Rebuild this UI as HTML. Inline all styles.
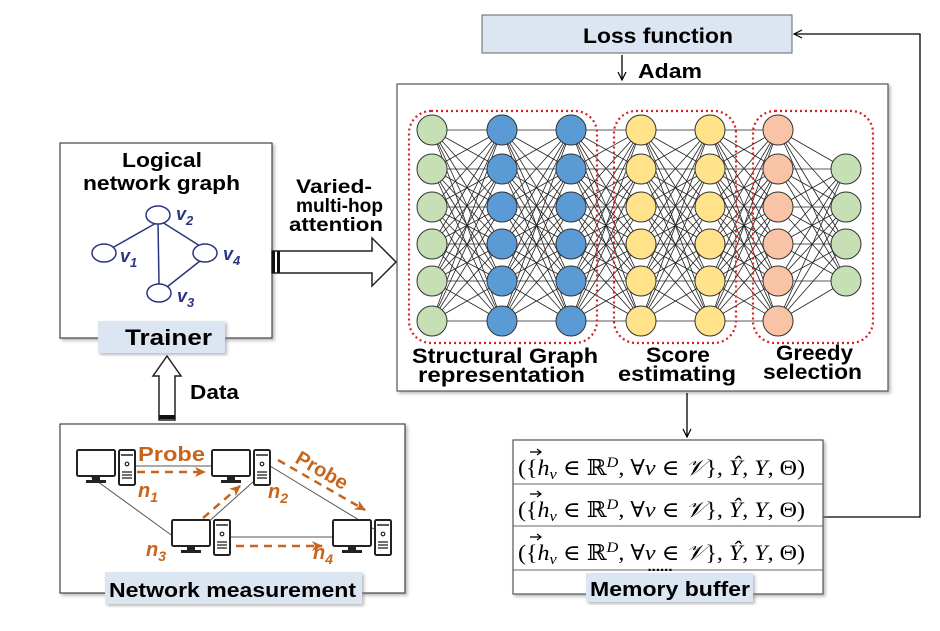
<!DOCTYPE html>
<html><head><meta charset="utf-8"><style>
html,body{margin:0;padding:0;background:#fff;}
svg{display:block;font-family:"Liberation Sans",Arial,sans-serif;}
.b{font-weight:bold;}
.m{font-family:"Liberation Serif","DejaVu Serif",serif;font-size:22px;}
</style></head><body>
<svg id="s" width="940" height="631" viewBox="0 0 940 631" xmlns="http://www.w3.org/2000/svg">
<defs>
<filter id="sh" x="-5%" y="-5%" width="112%" height="115%"><feDropShadow dx="2" dy="2" stdDeviation="1.5" flood-color="#888" flood-opacity="0.6"/></filter>
<marker id="ah" markerWidth="10" markerHeight="10" refX="9" refY="5" orient="auto" markerUnits="userSpaceOnUse"><path d="M1,1 L9,5 L1,9" fill="none" stroke="#000" stroke-width="1.2"/></marker>
<marker id="oa" markerWidth="12" markerHeight="12" refX="10" refY="6" orient="auto" markerUnits="userSpaceOnUse"><path d="M0,1 L11,6 L0,11 L3,6 Z" fill="#c8651b"/></marker>
<g id="pc">
<rect x="0" y="0" width="38" height="26" fill="#fff" stroke="#222" stroke-width="2" rx="1.5"/>
<rect x="15" y="26" width="8" height="4" fill="#222"/>
<rect x="9" y="30" width="20" height="3" fill="#222"/>
<rect x="42" y="0" width="16" height="35" fill="#fff" stroke="#222" stroke-width="2" rx="1.5"/>
<line x1="44" y1="5" x2="56" y2="5" stroke="#222" stroke-width="1.5"/>
<circle cx="50" cy="14" r="1.8" fill="none" stroke="#222" stroke-width="1.2"/>
<line x1="45" y1="22" x2="55" y2="22" stroke="#222" stroke-width="1.3"/>
<line x1="45" y1="25" x2="55" y2="25" stroke="#222" stroke-width="1.3"/>
<line x1="45" y1="28" x2="55" y2="28" stroke="#222" stroke-width="1.3"/>
</g>
<g id="vec"><line x1="0" y1="0" x2="10" y2="0" stroke="#000" stroke-width="1.3"/><path d="M7,-3 L11,0 L7,3" fill="none" stroke="#000" stroke-width="1.2"/></g>
</defs>

<!-- Loss function -->
<rect x="482" y="15" width="310" height="38" fill="#dce6f2" stroke="#666" stroke-width="1"/>
<text x="583" y="43" class="b" font-size="21" textLength="150" lengthAdjust="spacingAndGlyphs">Loss function</text>
<line x1="622" y1="55" x2="622" y2="80" stroke="#000" stroke-width="1.3" marker-end="url(#ah)"/>
<text x="638" y="78" class="b" font-size="20" textLength="64" lengthAdjust="spacingAndGlyphs">Adam</text>
<polyline points="823,517 920,517 920,34 794,34" fill="none" stroke="#000" stroke-width="1.3" marker-end="url(#ah)"/>

<!-- NN box -->
<rect x="397" y="84" width="491" height="307" fill="#fff" stroke="#555" stroke-width="1.2" filter="url(#sh)"/>
<g id="nn"></g>
<rect x="409" y="111" width="188" height="232" rx="22" fill="none" stroke="#d42020" stroke-width="2.2" stroke-dasharray="2,3"/>
<rect x="614" y="111" width="122" height="232" rx="22" fill="none" stroke="#d42020" stroke-width="2.2" stroke-dasharray="2,3"/>
<rect x="753" y="111" width="120" height="232" rx="22" fill="none" stroke="#d42020" stroke-width="2.2" stroke-dasharray="2,3"/>
<g class="b" font-size="21" lengthAdjust="spacingAndGlyphs">
<text x="412" y="363" textLength="186" lengthAdjust="spacingAndGlyphs">Structural Graph</text>
<text x="418" y="382" textLength="167" lengthAdjust="spacingAndGlyphs">representation</text>
<text x="646" y="362" textLength="64" lengthAdjust="spacingAndGlyphs">Score</text>
<text x="618" y="381" textLength="118" lengthAdjust="spacingAndGlyphs">estimating</text>
<text x="776" y="360" textLength="77" lengthAdjust="spacingAndGlyphs">Greedy</text>
<text x="763" y="379" textLength="99" lengthAdjust="spacingAndGlyphs">selection</text>
</g>

<!-- arrow to memory -->
<line x1="687" y1="393" x2="687" y2="437" stroke="#000" stroke-width="1.3" marker-end="url(#ah)"/>
<!-- Memory buffer -->
<rect x="513" y="440" width="310" height="154" fill="#fff" stroke="#555" stroke-width="1.2" filter="url(#sh)"/>
<line x1="513" y1="484" x2="823" y2="484" stroke="#666"/>
<line x1="513" y1="526" x2="823" y2="526" stroke="#666"/>
<line x1="513" y1="570" x2="823" y2="570" stroke="#666"/>
<g class="m">
<text x="518" y="475" textLength="287" lengthAdjust="spacingAndGlyphs">({<tspan font-style="italic">h</tspan><tspan font-size="15" font-style="italic" dy="4">v</tspan><tspan dy="-4"> ∈ ℝ</tspan><tspan font-size="15" font-style="italic" dy="-8">D</tspan><tspan dy="8">, ∀</tspan><tspan font-style="italic">v</tspan> ∈ <tspan font-style="italic">𝒱</tspan>}, <tspan font-style="italic">Ŷ</tspan>, <tspan font-style="italic">Y</tspan>, Θ)</text>
<text x="518" y="517" textLength="287" lengthAdjust="spacingAndGlyphs">({<tspan font-style="italic">h</tspan><tspan font-size="15" font-style="italic" dy="4">v</tspan><tspan dy="-4"> ∈ ℝ</tspan><tspan font-size="15" font-style="italic" dy="-8">D</tspan><tspan dy="8">, ∀</tspan><tspan font-style="italic">v</tspan> ∈ <tspan font-style="italic">𝒱</tspan>}, <tspan font-style="italic">Ŷ</tspan>, <tspan font-style="italic">Y</tspan>, Θ)</text>
<text x="518" y="560" textLength="287" lengthAdjust="spacingAndGlyphs">({<tspan font-style="italic">h</tspan><tspan font-size="15" font-style="italic" dy="4">v</tspan><tspan dy="-4"> ∈ ℝ</tspan><tspan font-size="15" font-style="italic" dy="-8">D</tspan><tspan dy="8">, ∀</tspan><tspan font-style="italic">v</tspan> ∈ <tspan font-style="italic">𝒱</tspan>}, <tspan font-style="italic">Ŷ</tspan>, <tspan font-style="italic">Y</tspan>, Θ)</text>
</g>
<use href="#vec" x="530" y="452"/><use href="#vec" x="530" y="494"/><use href="#vec" x="530" y="537"/>
<text x="660" y="571" font-size="15" class="b" text-anchor="middle">......</text>
<rect x="586" y="573" width="167" height="29" fill="#dce6f2" filter="url(#sh)"/>
<text x="590" y="596" class="b" font-size="20" textLength="160" lengthAdjust="spacingAndGlyphs">Memory buffer</text>

<!-- Logical network graph -->
<rect x="60" y="143" width="212" height="195" fill="#fff" stroke="#444" stroke-width="1.2" filter="url(#sh)"/>
<text x="122" y="167" class="b" font-size="20" textLength="80" lengthAdjust="spacingAndGlyphs">Logical</text>
<text x="83" y="190" class="b" font-size="20" textLength="157" lengthAdjust="spacingAndGlyphs">network graph</text>
<g stroke="#2a3580" stroke-width="1.5" fill="none">
<line x1="158" y1="222" x2="112" y2="248"/>
<line x1="158" y1="222" x2="159" y2="284"/>
<line x1="162" y1="222" x2="200" y2="246"/>
<line x1="200" y1="261" x2="167" y2="287"/>
<ellipse cx="158" cy="215" rx="12" ry="9" fill="#fff"/>
<ellipse cx="104" cy="253" rx="12" ry="9" fill="#fff"/>
<ellipse cx="205" cy="253" rx="12" ry="9" fill="#fff"/>
<ellipse cx="159" cy="293" rx="12" ry="9" fill="#fff"/>
</g>
<g fill="#2a3580" class="b" font-style="italic" font-size="18">
<text x="176" y="220">v<tspan font-size="13" dy="5">2</tspan></text>
<text x="120" y="262">v<tspan font-size="13" dy="5">1</tspan></text>
<text x="223" y="260">v<tspan font-size="13" dy="5">4</tspan></text>
<text x="177" y="302">v<tspan font-size="13" dy="5">3</tspan></text>
</g>
<rect x="98" y="321" width="127" height="32" fill="#dce6f2" filter="url(#sh)"/>
<text x="125" y="345" class="b" font-size="22" textLength="87" lengthAdjust="spacingAndGlyphs">Trainer</text>

<!-- big right arrow -->
<path d="M272,251 L372,251 L372,238 L396,262 L372,286 L372,273 L272,273 Z" fill="#fff" stroke="#222" stroke-width="1.5"/>
<rect x="272" y="251" width="3" height="22" fill="#111"/><rect x="277" y="251" width="3" height="22" fill="#111"/>
<g class="b" font-size="19">
<text x="296" y="193" textLength="76" lengthAdjust="spacingAndGlyphs">Varied-</text>
<text x="296" y="212" textLength="87" lengthAdjust="spacingAndGlyphs">multi-hop</text>
<text x="289" y="231" textLength="94" lengthAdjust="spacingAndGlyphs">attention</text>
</g>

<!-- up arrow -->
<path d="M159,420 L159,376 L153,376 L167,356 L181,376 L175,376 L175,420 Z" fill="#fff" stroke="#222" stroke-width="1.5"/>
<rect x="159" y="415" width="16" height="4" fill="#111"/>
<text x="190" y="399" class="b" font-size="20" textLength="49" lengthAdjust="spacingAndGlyphs">Data</text>

<!-- Network measurement -->
<rect x="60" y="424" width="345" height="169" fill="#fff" stroke="#444" stroke-width="1.2" filter="url(#sh)"/>
<g stroke="#555" stroke-width="1">
<line x1="135" y1="466" x2="213" y2="466"/>
<line x1="79" y1="468" x2="174" y2="537"/>
<line x1="205" y1="525" x2="254" y2="481"/>
<line x1="270" y1="466" x2="392" y2="540"/>
<line x1="230" y1="537" x2="335" y2="537"/>
</g>
<use href="#pc" x="77" y="450"/>
<use href="#pc" x="212" y="450"/>
<use href="#pc" x="172" y="520"/>
<use href="#pc" x="333" y="520"/>
<g stroke="#c8651b" stroke-width="2.5" stroke-dasharray="8,6" fill="none">
<line x1="137" y1="472" x2="205" y2="472" marker-end="url(#oa)"/>
<line x1="203" y1="518" x2="240" y2="486" marker-end="url(#oa)"/>
<line x1="278" y1="460" x2="365" y2="510" marker-end="url(#oa)"/>
<line x1="236" y1="546" x2="322" y2="546" marker-end="url(#oa)"/>
</g>
<g fill="#c8651b" class="b">
<text x="138" y="461" font-size="20" textLength="67" lengthAdjust="spacingAndGlyphs">Probe</text>
<text font-size="20" transform="translate(294,462) rotate(30)">Probe</text>
<text x="138" y="497" font-size="20" font-style="italic">n<tspan font-size="14" dy="5">1</tspan></text>
<text x="268" y="498" font-size="20" font-style="italic">n<tspan font-size="14" dy="5">2</tspan></text>
<text x="146" y="556" font-size="20" font-style="italic">n<tspan font-size="14" dy="5">3</tspan></text>
<text x="313" y="559" font-size="20" font-style="italic">n<tspan font-size="14" dy="5">4</tspan></text>
</g>
<rect x="105" y="572" width="257" height="32" fill="#dce6f2" filter="url(#sh)"/>
<text x="109" y="597" class="b" font-size="20" textLength="247" lengthAdjust="spacingAndGlyphs">Network measurement</text>
</svg>
<script>
(function(){
var NS="http://www.w3.org/2000/svg",g=document.getElementById("nn");
var xs=[432,502,571,641,710,778,846];
var six=[130,169,207,244,281,321],four=[169,207,244,281];
var cols=[six,six,six,six,six,six,four];
var fills=["#c6dfb4","#5b9bd5","#5b9bd5","#ffe28a","#ffe28a","#f8c4a5","#c6dfb4"];
for(var c=0;c<6;c++){for(var i=0;i<cols[c].length;i++)for(var j=0;j<cols[c+1].length;j++){
var l=document.createElementNS(NS,"line");l.setAttribute("x1",xs[c]);l.setAttribute("y1",cols[c][i]);
l.setAttribute("x2",xs[c+1]);l.setAttribute("y2",cols[c+1][j]);l.setAttribute("stroke","#222");l.setAttribute("stroke-width","0.8");g.appendChild(l);}}
for(var c=0;c<7;c++)for(var i=0;i<cols[c].length;i++){var e=document.createElementNS(NS,"circle");
e.setAttribute("cx",xs[c]);e.setAttribute("cy",cols[c][i]);e.setAttribute("r",15);e.setAttribute("fill",fills[c]);
e.setAttribute("stroke","#333");e.setAttribute("stroke-width","1");g.appendChild(e);}
})();
</script>
</body></html>
